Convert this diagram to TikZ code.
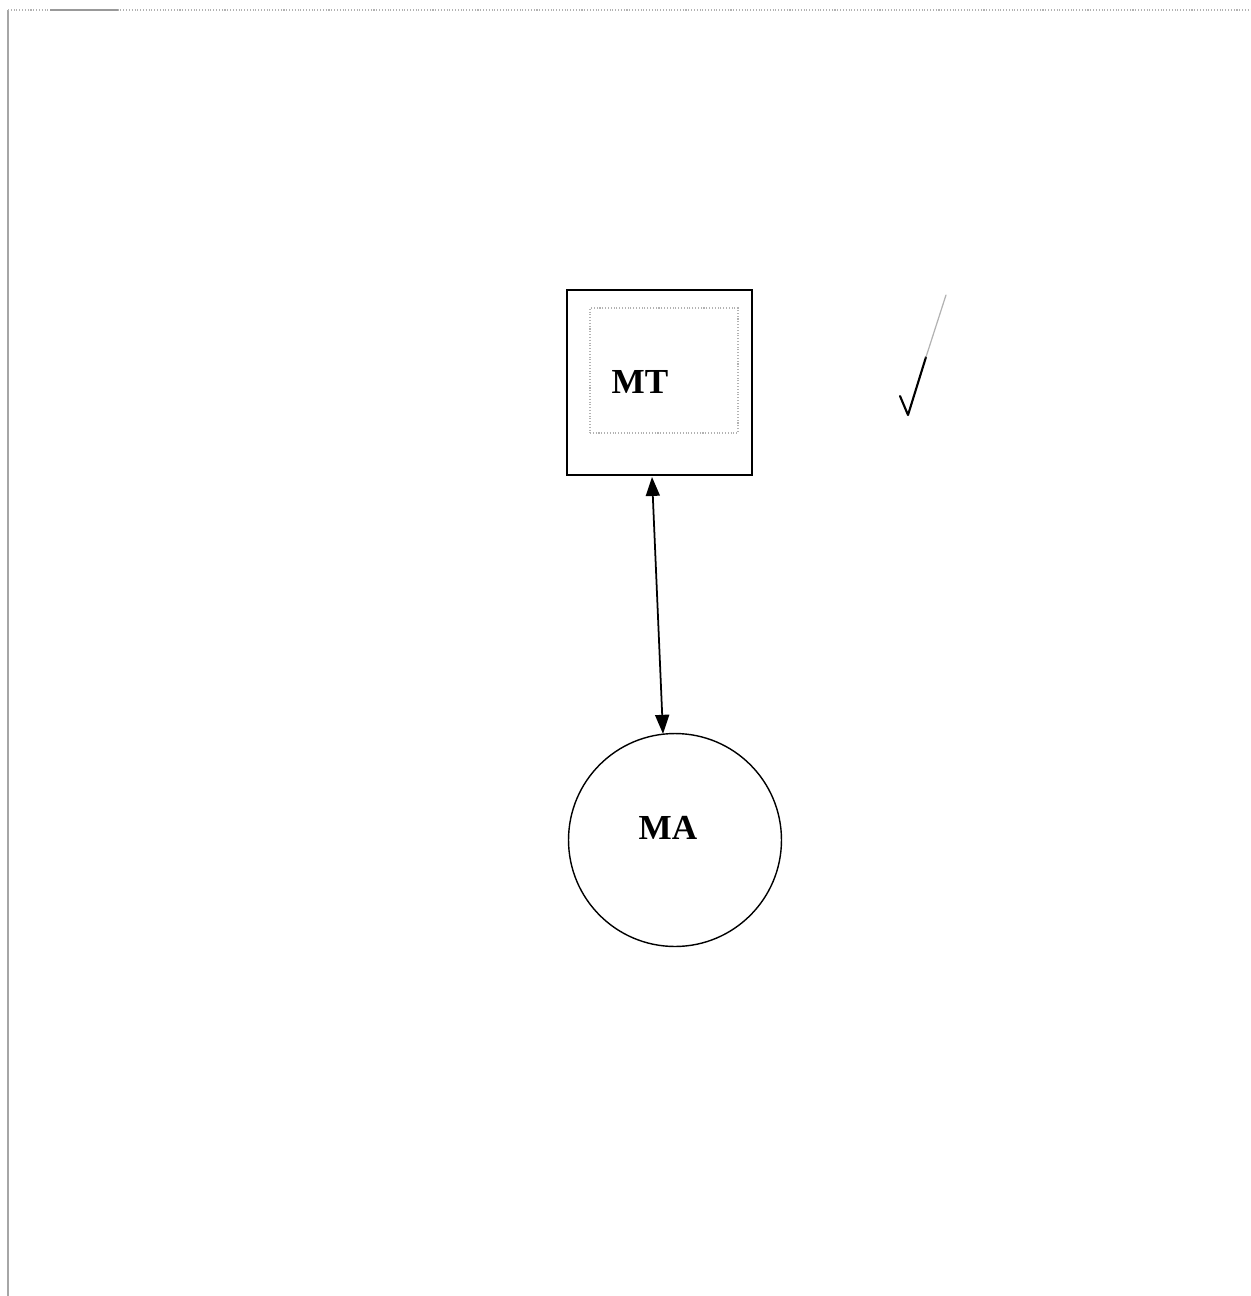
\documentclass[tikz,border=0pt]{standalone}
\usepackage{fontspec}
\setmainfont{Liberation Serif}
\usetikzlibrary{calc,arrows.meta}

\tikzset{
	box/.style={draw, line width=1.1pt, minimum width=3.7cm, minimum height=3.7cm},
	inbox/.style={draw=gray!60, densely dotted, line width=.6pt, minimum width=2.96cm, minimum height=2.5cm},
	ball/.style={draw, circle, line width=.8pt, minimum size=4.26cm},
	word/.style={font=\fontsize{20}{24}\selectfont\bfseries},
	link/.style={line width=1pt, {Triangle[length=.38cm,width=.28cm]}-{Triangle[length=.38cm,width=.28cm]}}
}

\begin{document}
\begin{tikzpicture}[x=.02cm,y=-.02cm]
\useasboundingbox (0,0) rectangle (1251,1296);
\draw[gray!70, line width=.6pt] (8,1296) -- (8,10);
\draw[gray!60, densely dotted, line width=.6pt] (8,10) -- (1251,10);
\draw[gray!80, line width=.8pt] (50,10) -- (118,10);
% the two parts
\node[box] (mt) at (659.5,382.5) {};
\node[inbox] (mtin) at (664,370.5) {};
\node[word] (mtlabel) at (640,382) {MT};
\node[ball] (ma) at (675,840) {};
\node[word] (malabel) at (668,828) {MA};
\draw[link] ($(mt.south)+(-7.5,1)$) -- ($(ma.north)+(-12,1)$);
% tick
\draw[line width=1.2pt, line cap=round, line join=round] (900,396) -- (908,415) -- (926,357);
\draw[gray!60, line width=.7pt, line cap=round] (926,357) -- (946,295);
\end{tikzpicture}
\end{document}
